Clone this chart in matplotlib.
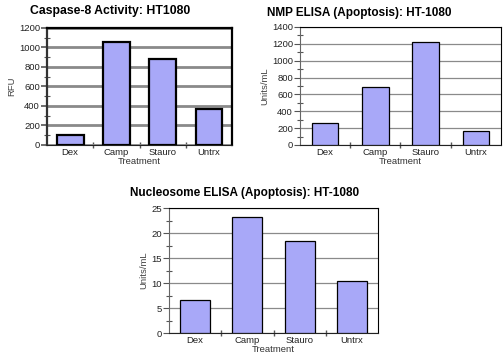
import matplotlib
matplotlib.use('Agg')
import matplotlib.pyplot as plt
from matplotlib.ticker import MultipleLocator

plt.rcParams['font.family'] = ['Liberation Sans', 'DejaVu Sans']

# data
treatments = ['Dex', 'Camp', 'Stauro', 'Untrx']
caspase8_rfu = [100, 1060, 880, 370]
nmp_units = [260, 690, 1225, 165]
nucleosome_units = [6.6, 23.2, 18.5, 10.4]

BAR_COLOR = '#a8a8f8'
GRID_GRAY = '#8a8a8a'
W, H = 503, 356


def draw_panel(ax, values, title, title_xy, title_size, ylabel, ymax, major, heavy=False, barw=0.57):
	"""One Excel-style bar chart panel"""
	lw = 1.6 if heavy else 0.8
	x = range(len(values))
	ax.bar(x, values, width=barw, color=BAR_COLOR, edgecolor='black',
		linewidth=1.6 if heavy else 0.9, zorder=3)
	ax.set_xlim(-0.5, len(values) - 0.5)
	ax.set_ylim(0, ymax)
	ax.yaxis.set_major_locator(MultipleLocator(major))
	ax.yaxis.set_minor_locator(MultipleLocator(major / 2))
	ax.grid(axis='y', which='major', color=GRID_GRAY, linewidth=2.0 if heavy else 0.9, zorder=1)

	# category labels sit under bars, ticks between categories
	ax.set_xticks([0.5, 1.5, 2.5])
	ax.set_xticklabels([])
	ax.set_xticks(list(x), minor=True)
	ax.set_xticklabels(treatments, minor=True)
	ax.tick_params(axis='x', which='minor', length=0, labelsize=6.8, pad=2, labelcolor='#222222')
	ax.tick_params(axis='x', which='major', length=4, direction='inout', color='#555555', width=1)
	ax.tick_params(axis='y', which='major', length=4, direction='out', color='#555555',
		width=1.2 if heavy else 0.8, labelsize=6.8, pad=1, labelcolor='#222222')
	ax.tick_params(axis='y', which='minor', length=4, direction='inout', color='#555555', width=0.8)

	for side in ['top', 'right', 'left']:
		ax.spines[side].set_linewidth(lw)
		ax.spines[side].set_color('black')
	ax.spines['left'].set_color('#333333' if heavy else '#666666')
	ax.spines['bottom'].set_linewidth(0.8)
	ax.spines['bottom'].set_color('#222222')

	fig.text(title_xy[0] / W, 1 - title_xy[1] / H, title, fontsize=title_size,
		fontweight='bold', ha='left', va='center')
	ax.set_xlabel('Treatment', fontsize=6.8, color='#333333', labelpad=0)
	ax.set_ylabel(ylabel, fontsize=6.8, color='#444444', labelpad=2)


fig = plt.figure(figsize=(5.03, 3.56), dpi=100)

ax1 = fig.add_axes([0.0934, 0.5927, 0.368, 0.3287])
draw_panel(ax1, caspase8_rfu, 'Caspase-8 Activity: HT1080', (30, 11), 8.8, 'RFU', 1200, 200,
	heavy=True, barw=0.58)

ax2 = fig.add_axes([0.5964, 0.5927, 0.3996, 0.3315])
draw_panel(ax2, nmp_units, 'NMP ELISA (Apoptosis): HT-1080', (267, 13), 8.5, 'Units/mL', 1400, 200,
	barw=0.53)

ax3 = fig.add_axes([0.336, 0.0646, 0.4155, 0.351])
draw_panel(ax3, nucleosome_units, 'Nucleosome ELISA (Apoptosis): HT-1080', (130, 193), 8.5,
	'Units/mL', 25, 5, barw=0.57)

fig.savefig('out.png', dpi=100)
